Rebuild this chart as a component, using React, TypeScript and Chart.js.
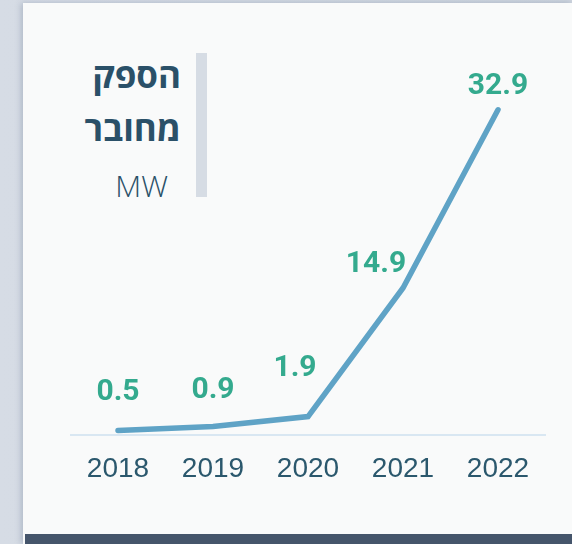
import React, { useEffect, useRef } from "react";
import { Chart, registerables } from "chart.js";

Chart.register(...registerables);

const YEARS: string[] = ["2018", "2019", "2020", "2021", "2022"];
const CAPACITY_MW: number[] = [0.5, 0.9, 1.9, 14.9, 32.9];
const VALUE_LABELS: string[] = ["0.5", "0.9", "1.9", "14.9", "32.9"];
const LABEL_DX: number[] = [0, 0, -13, -27, 0];
const LABEL_DY: number[] = [-38, -36, -48, -23, -23];
const TITLE_LINES: string[] = ["הספק", "מחובר"];
const UNIT = "MW";

const valueLabelPlugin = {
  id: "valueLabels",
  afterDatasetsDraw(chart: any) {
    const meta = chart.getDatasetMeta(0);
    const ctx = chart.ctx;
    ctx.save();
    ctx.fillStyle = "#34aa8e";
    ctx.font = "bold 30px Roboto, 'Liberation Sans', sans-serif";
    ctx.textAlign = "center";
    ctx.textBaseline = "middle";
    meta.data.forEach((pt: any, i: number) => {
      ctx.fillText(VALUE_LABELS[i], pt.x + LABEL_DX[i], pt.y + LABEL_DY[i]);
    });
    ctx.restore();
  },
};

export default function App() {
  const ref = useRef<HTMLCanvasElement | null>(null);

  useEffect(() => {
    if (!ref.current) return;
    const chart = new Chart(ref.current, {
      type: "line",
      data: {
        labels: YEARS,
        datasets: [
          {
            data: CAPACITY_MW,
            borderColor: "#5fa3c6",
            borderWidth: 5.5,
            pointRadius: 0,
            borderCapStyle: "round",
            tension: 0,
            clip: false,
          } as any,
        ],
      },
      options: {
        animation: false,
        responsive: false,
        maintainAspectRatio: false,
        layout: { padding: { left: 70.5, right: 26.5, top: 89, bottom: 41 } },
        plugins: { legend: { display: false }, tooltip: { enabled: false } },
        scales: {
          x: {
            offset: true,
            grid: { display: false, drawTicks: false },
            border: { display: true, color: "#d9e7f2", width: 2 },
            ticks: {
              color: "#2b586d",
              padding: 17,
              font: { family: "'Liberation Sans', Arial, sans-serif", size: 28 },
            },
          },
          y: { display: false, min: 0, max: 35 },
        },
      },
      plugins: [valueLabelPlugin],
    });
    return () => chart.destroy();
  }, []);

  const titleStyle: React.CSSProperties = {
    position: "absolute",
    right: 572 - 181,
    fontFamily: "'Open Sans', 'Noto Sans', sans-serif",
    fontWeight: 700,
    fontSize: 35,
    lineHeight: "35px",
    color: "#2a5068",
    direction: "rtl",
    whiteSpace: "nowrap",
  };

  return (
    <div
      style={{
        position: "fixed",
        left: 0,
        top: 0,
        width: 572,
        height: 544,
        overflow: "hidden",
        background: "linear-gradient(90deg, #d6dce5 0%, #cdd4de 100%)",
      }}
    >
      <div
        style={{
          position: "absolute",
          left: 23,
          top: 3,
          width: 549,
          height: 541,
          background: "#f9fafa",
          boxShadow: "-2px 0 6px rgba(60,80,110,0.25)",
        }}
      />
      <div
        style={{
          position: "absolute",
          left: 25,
          top: 534,
          width: 547,
          height: 10,
          background: "#45556b",
        }}
      />
      <div
        style={{
          position: "absolute",
          left: 196,
          top: 53,
          width: 11,
          height: 144,
          background: "#d6dce4",
        }}
      />
      <div style={{ ...titleStyle, top: 57 }}>{TITLE_LINES[0]}</div>
      <div style={{ ...titleStyle, top: 110 }}>{TITLE_LINES[1]}</div>
      <div
        style={{
          ...titleStyle,
          right: 572 - 168,
          top: 171,
          fontWeight: 300,
          fontSize: 30,
          lineHeight: "30px",
          direction: "ltr",
        }}
      >
        {UNIT}
      </div>
      <canvas
        ref={ref}
        width={572}
        height={544}
        style={{ position: "absolute", left: 0, top: 0, width: 572, height: 544 }}
      />
    </div>
  );
}
